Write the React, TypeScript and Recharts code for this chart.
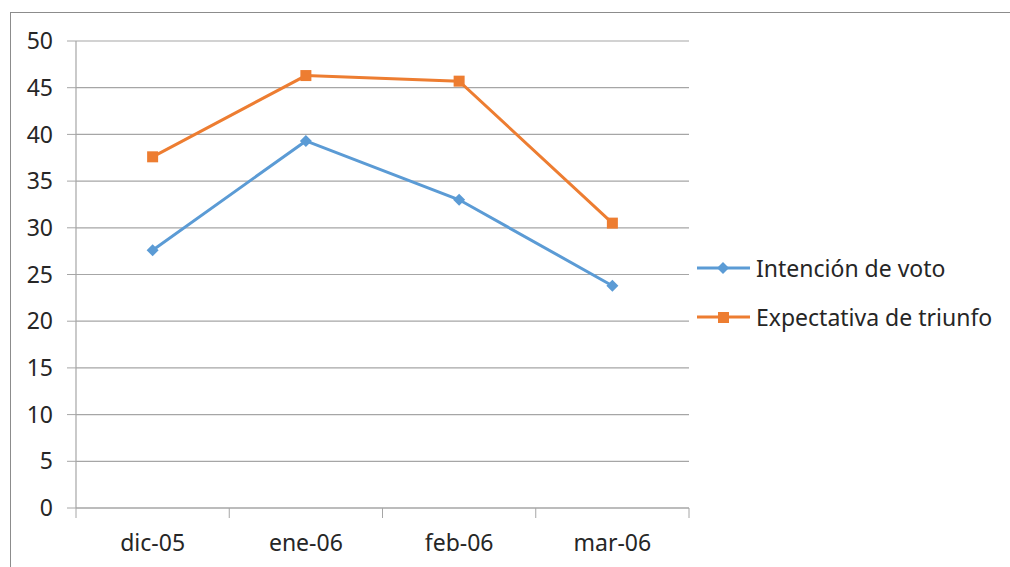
import { LineChart, Line, XAxis, YAxis, CartesianGrid } from 'recharts';

const months = ['dic-05', 'ene-06', 'feb-06', 'mar-06'];
const intencion = [27.6, 39.3, 33.0, 23.8];
const expectativa = [37.6, 46.3, 45.7, 30.5];
const yTicks = [0, 5, 10, 15, 20, 25, 30, 35, 40, 45, 50];

const BLUE = '#5b9bd5';
const ORANGE = '#ed7d31';
const GRID = '#a6a6a6';
const FONT = '"Noto Sans", sans-serif';
const FS = 23;

const data = months.map((m, i) => ({ month: m, intencion: intencion[i], expectativa: expectativa[i] }));

const W = 1010;
const H = 567;
const X_HEIGHT = 30;
const M = { top: 41, right: 321, bottom: 59 - X_HEIGHT, left: 16 };
const Y_WIDTH = 60;
const bandWidth = (W - M.left - Y_WIDTH - M.right) / months.length;

const Diamond = ({ cx, cy }: any) => (
  <polygon points={`${cx},${cy - 6} ${cx + 6},${cy} ${cx},${cy + 6} ${cx - 6},${cy}`} fill={BLUE} />
);

const Square = ({ cx, cy }: any) => <rect x={cx - 5.5} y={cy - 5.5} width={11} height={11} fill={ORANGE} />;

const XTick = ({ x, y, payload, index }: any) => {
  const left = x - bandWidth / 2;
  return (
    <g>
      <line x1={left} y1={y - 8} x2={left} y2={y + 2} stroke={GRID} />
      {index === months.length - 1 && (
        <line x1={left + bandWidth} y1={y - 8} x2={left + bandWidth} y2={y + 2} stroke={GRID} />
      )}
      <text x={x} y={y + 35} textAnchor="middle" fill="#262626" fontSize={FS} fontFamily={FONT}>
        {payload.value}
      </text>
    </g>
  );
};

const LegendBox = () => (
  <div style={{ position: 'absolute', left: 697, top: 243, fontFamily: FONT, fontSize: FS, color: '#262626' }}>
    {[
      { name: 'Intención de voto', color: BLUE, shape: 'diamond' },
      { name: 'Expectativa de triunfo', color: ORANGE, shape: 'square' },
    ].map((s) => (
      <div key={s.name} style={{ display: 'flex', alignItems: 'center', height: 49 }}>
        <svg width={59} height={20}>
          <line x1={0} y1={10} x2={53} y2={10} stroke={s.color} strokeWidth={3} />
          {s.shape === 'diamond' ? (
            <polygon points="26,4 32,10 26,16 20,10" fill={s.color} />
          ) : (
            <rect x={21} y={5} width={11} height={11} fill={s.color} />
          )}
        </svg>
        <span>{s.name}</span>
      </div>
    ))}
  </div>
);

export default function App() {
  return (
    <div style={{ position: 'absolute', left: 0, top: 0, width: W, height: H, background: '#fff', overflow: 'hidden' }}>
      <div
        style={{
          position: 'absolute',
          left: 10,
          top: 12,
          width: 1100,
          height: 700,
          border: '1.5px solid #8c8c8c',
          boxSizing: 'border-box',
        }}
      />
      <LineChart width={W} height={H} data={data} margin={M} style={{ position: 'absolute', left: 0, top: 0 }}>
        <CartesianGrid vertical={false} stroke={GRID} strokeWidth={1.2} />
        <XAxis
          dataKey="month"
          scale="band"
          height={X_HEIGHT}
          axisLine={{ stroke: GRID, strokeWidth: 1.2 }}
          tickLine={false}
          tick={<XTick />}
          interval={0}
        />
        <YAxis
          width={Y_WIDTH}
          domain={[0, 50]}
          ticks={yTicks}
          interval={0}
          axisLine={{ stroke: GRID, strokeWidth: 1.2 }}
          tickLine={{ stroke: GRID }}
          tickSize={9}
          tickMargin={14}
          tick={{ fill: '#262626', fontSize: FS, fontFamily: FONT }}
        />
        <Line
          dataKey="intencion"
          stroke={BLUE}
          strokeWidth={3}
          dot={<Diamond />}
          isAnimationActive={false}
        />
        <Line
          dataKey="expectativa"
          stroke={ORANGE}
          strokeWidth={3}
          dot={<Square />}
          isAnimationActive={false}
        />
      </LineChart>
      <LegendBox />
    </div>
  );
}
